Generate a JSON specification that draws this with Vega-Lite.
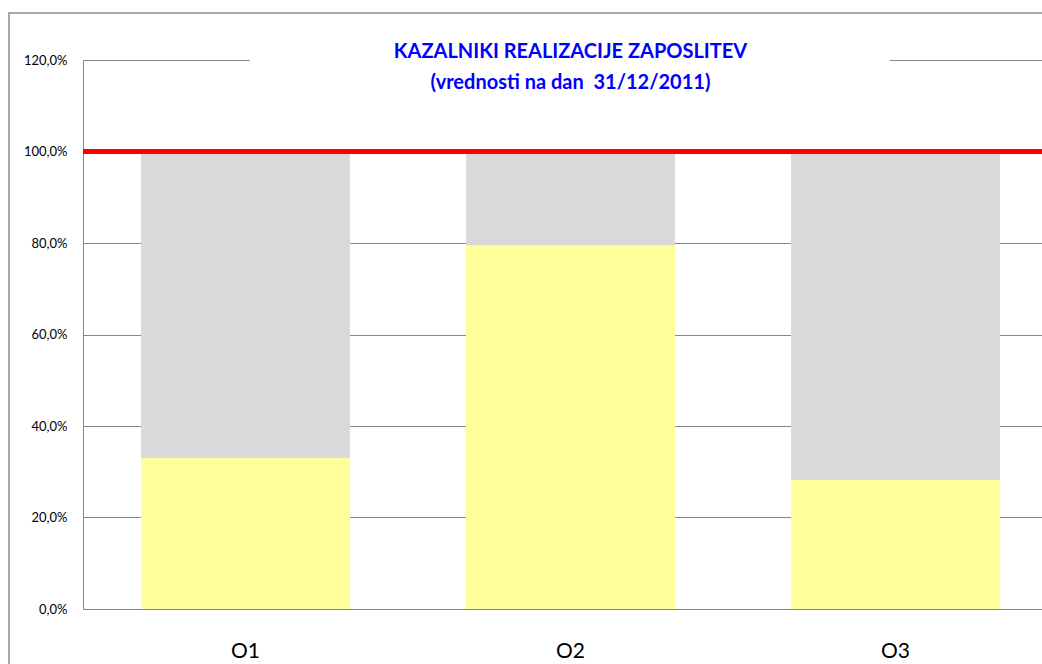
{
  "$schema": "https://vega.github.io/schema/vega-lite/v6.json",
  "width": 975,
  "height": 549,
  "autosize": {"type": "none"},
  "padding": {"left": 83, "top": 60, "right": 0, "bottom": 55},
  "background": "white",
  "config": {
    "locale": {"number": {"decimal": ",", "thousands": ".", "grouping": [3], "currency": ["", " €"]}},
    "view": {"stroke": null},
    "font": "Lato"
  },
  "title": {
    "text": ["KAZALNIKI REALIZACIJE ZAPOSLITEV", "(vrednosti na dan \u00a031/12/2011)"],
    "anchor": "middle",
    "frame": "group",
    "orient": "top",
    "baseline": "top",
    "offset": -81,
    "font": "Lato",
    "fontSize": 20,
    "fontWeight": "bold",
    "color": "#0000FF",
    "lineHeight": 31
  },
  "layer": [
    {
      "data": {"values": [
        {"kategorija": "O1", "del": "realizirano", "delez": 0.330},
        {"kategorija": "O1", "del": "ostalo", "delez": 0.670},
        {"kategorija": "O2", "del": "realizirano", "delez": 0.795},
        {"kategorija": "O2", "del": "ostalo", "delez": 0.205},
        {"kategorija": "O3", "del": "realizirano", "delez": 0.282},
        {"kategorija": "O3", "del": "ostalo", "delez": 0.718}
      ]},
      "mark": {"type": "bar"},
      "encoding": {
        "x": {
          "field": "kategorija", "type": "nominal",
          "scale": {"paddingInner": 0.357, "paddingOuter": 0.1785},
          "axis": {"title": null, "labelAngle": 0, "labelFontSize": 21, "labelFont": "Lato", "labelColor": "#000000", "labelPadding": 31, "ticks": false, "domainColor": "#868686", "domainWidth": 1, "grid": false}
        },
        "y": {
          "field": "delez", "type": "quantitative", "stack": "zero",
          "scale": {"domain": [0, 1.2], "nice": false},
          "axis": {"title": null, "format": ".1%", "values": [0, 0.2, 0.4, 0.6, 0.8, 1.0, 1.2], "ticks": false, "labelPadding": 16, "labelFontSize": 13, "labelFont": "Lato", "labelColor": "#000000", "domainColor": "#868686", "gridColor": "#868686", "gridWidth": 1}
        },
        "color": {
          "field": "del", "type": "nominal",
          "scale": {"domain": ["realizirano", "ostalo"], "range": ["#FFFF99", "#D9D9D9"]},
          "legend": null
        },
        "order": {"field": "del", "sort": "descending"}
      }
    },
    {
      "data": {"values": [{}]},
      "layer": [
        {
          "mark": {"type": "rect", "color": "white"},
          "encoding": {
            "x": {"datum": 0.1713, "type": "quantitative", "scale": {"domain": [0, 1], "nice": false, "zero": false}, "axis": null},
            "x2": {"datum": 0.8277},
            "y": {"datum": 1.21, "type": "quantitative"},
            "y2": {"datum": 1.12}
          }
        },
        {
          "mark": {"type": "rule", "color": "#FF0000", "strokeWidth": 5},
          "encoding": {
            "y": {"datum": 1.0, "type": "quantitative"}
          }
        },
        {
          "mark": {"type": "rect", "filled": false, "stroke": "#8C8C8C", "strokeWidth": 1.5},
          "encoding": {
            "x": {"datum": -0.0759, "type": "quantitative"},
            "x2": {"datum": 1.1},
            "y": {"datum": 1.3027, "type": "quantitative"},
            "y2": {"datum": -0.2}
          }
        }
      ]
    }
  ],
  "resolve": {"scale": {"x": "independent"}}
}
